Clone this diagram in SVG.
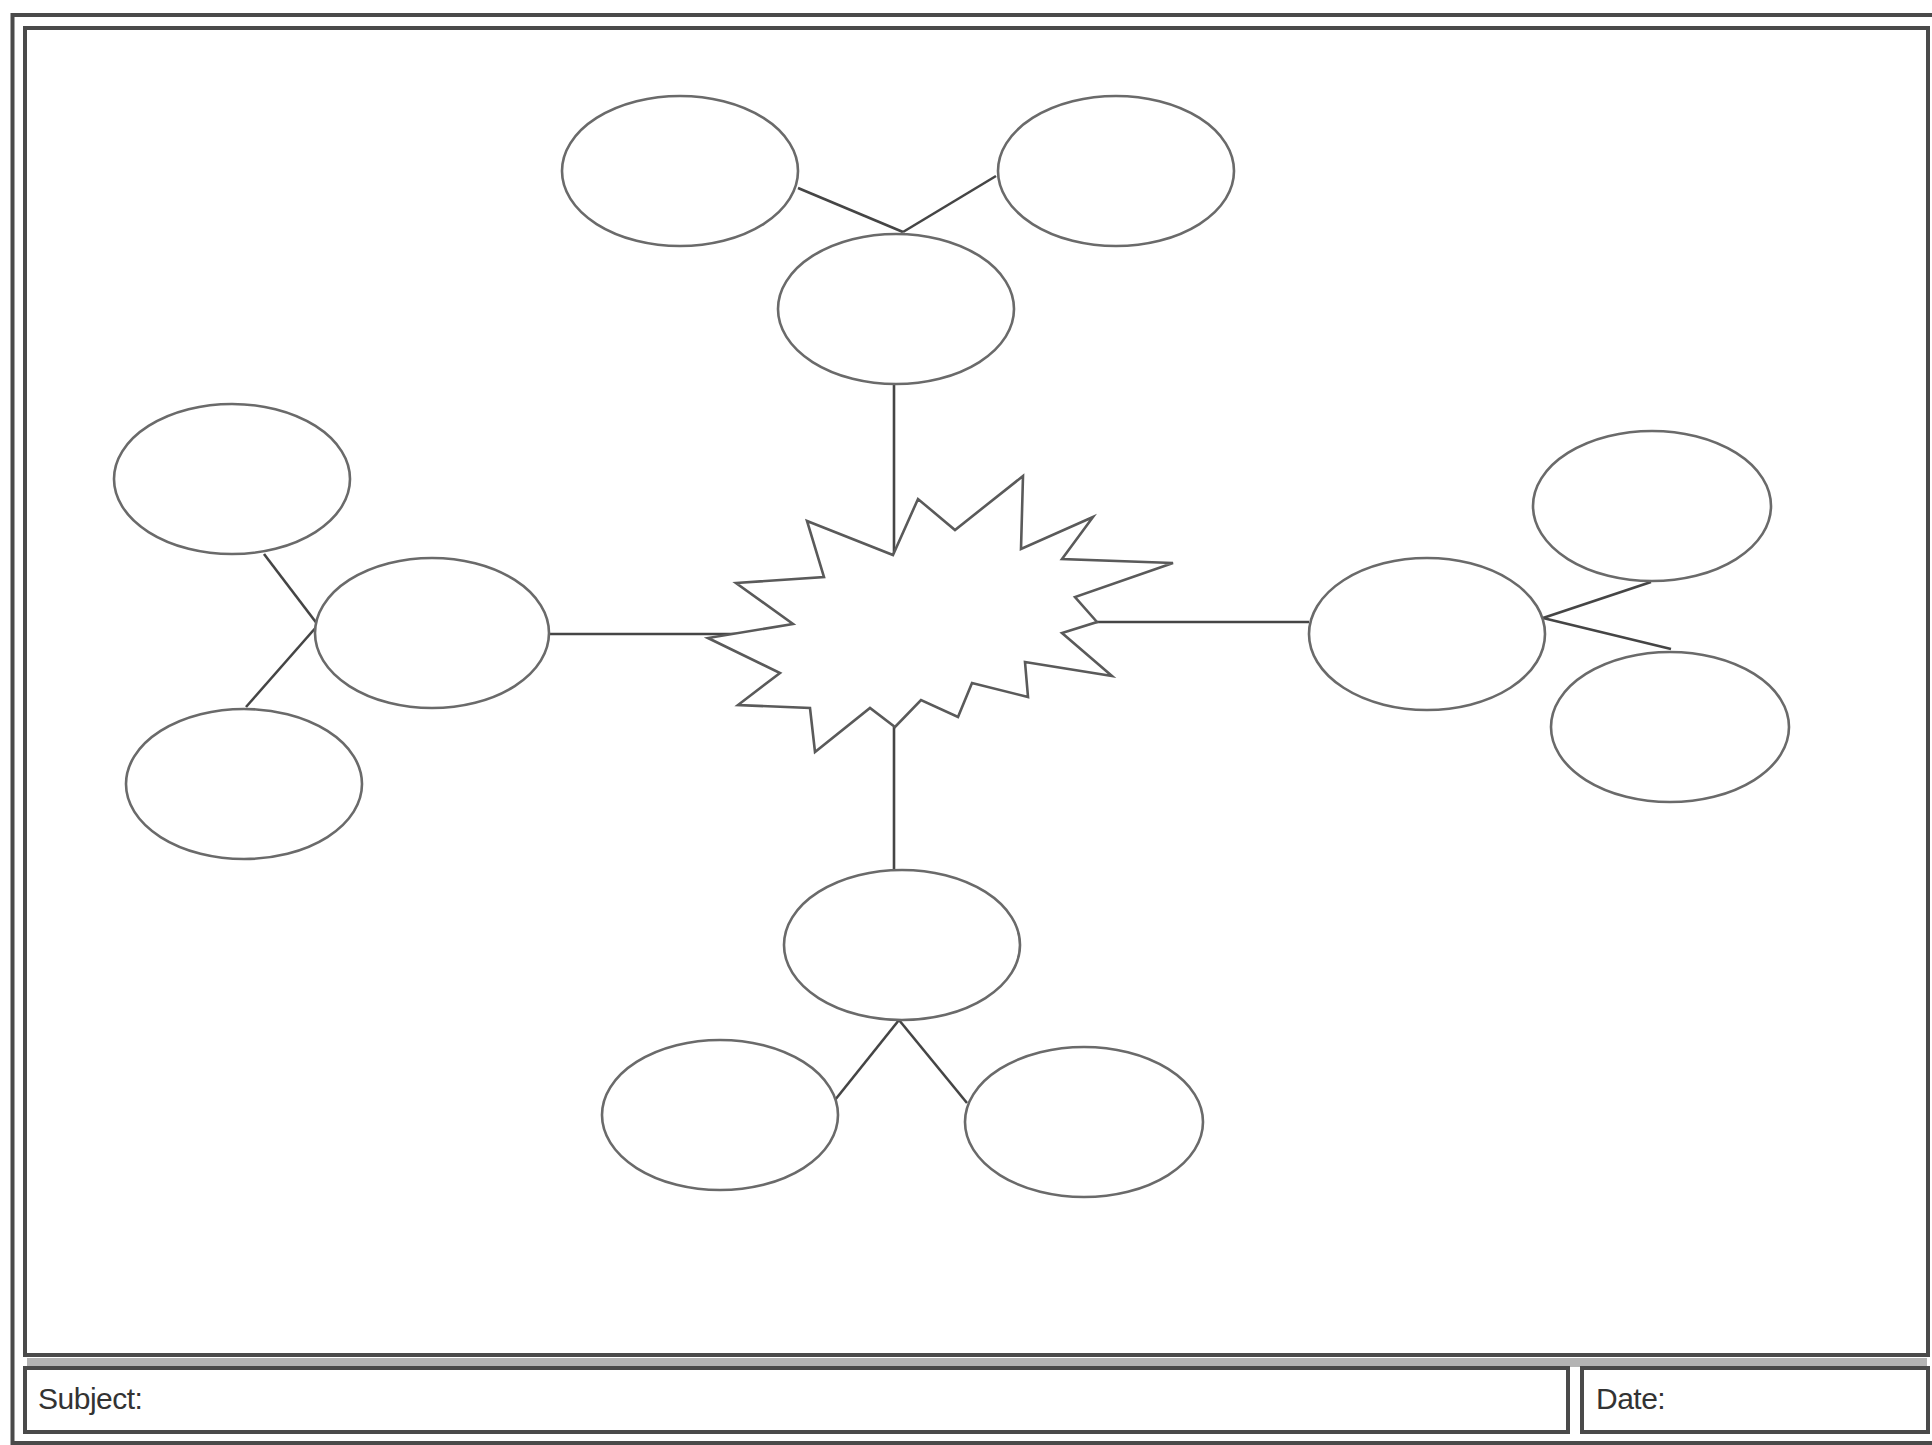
<svg xmlns="http://www.w3.org/2000/svg" width="1932" height="1445" viewBox="0 0 1932 1445">
<style>
.frame{fill:none;stroke:#4a4a4a;stroke-width:4}
.node ellipse{fill:#ffffff;stroke:#6a6a6a;stroke-width:2.6}
.star{fill:#ffffff;stroke:#5a5a5a;stroke-width:2.6;stroke-linejoin:miter}
#connectors line{stroke:#454545;stroke-width:2.6}
.label{font-family:"Liberation Sans",Arial,sans-serif;font-size:30px;fill:#333333;letter-spacing:-0.5px}
</style>
<rect width="1932" height="1445" fill="#ffffff"/>
<g id="frame">
<rect x="12.5" y="15" width="1930" height="1428" class="frame"/>
<rect x="25" y="28" width="1903" height="1327" class="frame"/>
<rect x="27" y="1358" width="1900" height="9" fill="#b4b4b4"/>
</g>
<g id="connectors">
<line x1="798" y1="188" x2="903" y2="232"/>
<line x1="996" y1="176" x2="903" y2="232"/>
<line x1="894" y1="383" x2="894" y2="555"/>
<line x1="264" y1="554" x2="318" y2="625"/>
<line x1="246" y1="707" x2="318" y2="625"/>
<line x1="550" y1="634" x2="745" y2="634"/>
<line x1="1543" y1="618" x2="1651" y2="582"/>
<line x1="1543" y1="618" x2="1671" y2="649"/>
<line x1="1094" y1="622" x2="1309" y2="622"/>
<line x1="899" y1="1020" x2="835" y2="1100"/>
<line x1="899" y1="1020" x2="967" y2="1103"/>
<line x1="894" y1="727" x2="894" y2="870"/>
</g>
<g id="center" class="node">
<polygon class="star" points="893,555 918,499 955,530 1023,476 1021,549 1093,517 1062,559 1173,563 1075,597 1097,622 1062,633 1112,676 1025,662 1028,697 972,683 958,717 921,700 895,727 870,708 815,752 810,708 738,705 780,673 708,638 793,624 736,583 824,577 807,521"/>
</g>
<g id="top" class="node"><ellipse cx="896" cy="309" rx="118" ry="75"/></g>
<g id="top-left" class="node"><ellipse cx="680" cy="171" rx="118" ry="75"/></g>
<g id="top-right" class="node"><ellipse cx="1116" cy="171" rx="118" ry="75"/></g>
<g id="left" class="node"><ellipse cx="432" cy="633" rx="117" ry="75"/></g>
<g id="left-top" class="node"><ellipse cx="232" cy="479" rx="118" ry="75"/></g>
<g id="left-bottom" class="node"><ellipse cx="244" cy="784" rx="118" ry="75"/></g>
<g id="right" class="node"><ellipse cx="1427" cy="634" rx="118" ry="76"/></g>
<g id="right-top" class="node"><ellipse cx="1652" cy="506" rx="119" ry="75"/></g>
<g id="right-bottom" class="node"><ellipse cx="1670" cy="727" rx="119" ry="75"/></g>
<g id="bottom" class="node"><ellipse cx="902" cy="945" rx="118" ry="75"/></g>
<g id="bottom-left" class="node"><ellipse cx="720" cy="1115" rx="118" ry="75"/></g>
<g id="bottom-right" class="node"><ellipse cx="1084" cy="1122" rx="119" ry="75"/></g>
<g id="footer">
<rect x="25" y="1368" width="1543" height="64" class="frame"/>
<rect x="1582" y="1368" width="346" height="64" class="frame"/>
<text x="38" y="1409" class="label">Subject:</text>
<text x="1596" y="1409" class="label">Date:</text>
</g>
</svg>
